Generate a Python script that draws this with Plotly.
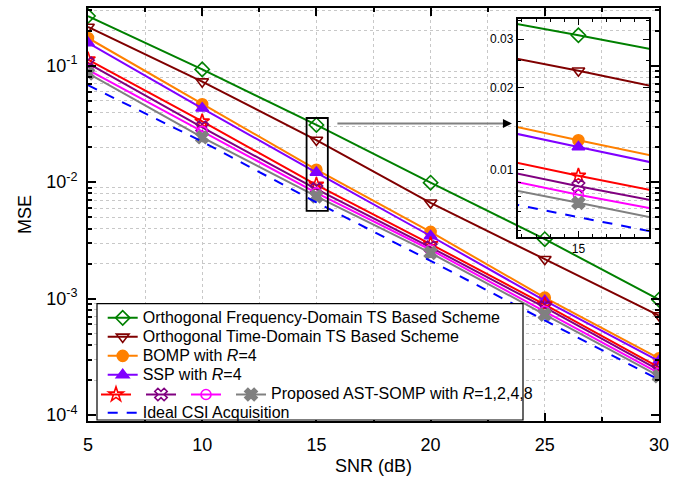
import math
import plotly.graph_objects as go

# ---------------- data ----------------
snr = [5, 10, 15, 20, 25, 30]
mse_ofd = [0.267, 0.093, 0.031, 0.0099, 0.00324, 0.00098]
mse_otd = [0.215, 0.073, 0.023, 0.00665, 0.00218, 0.000716]
mse_bomp = [0.173, 0.0467, 0.0128, 0.00374, 0.00102, 0.000307]
mse_ssp = [0.157, 0.0431, 0.0121, 0.00345, 0.00096, 0.000291]
mse_r1 = [0.113, 0.0332, 0.0095, 0.00294, 0.00089, 0.000257]
mse_r2 = [0.105, 0.0295, 0.0087, 0.00276, 0.00084, 0.000243]
mse_r4 = [0.092, 0.0273, 0.0081, 0.00263, 0.00078, 0.000229]
mse_r8 = [0.086, 0.0243, 0.00756, 0.00247, 0.00073, 0.000216]
mse_ideal = [0.068, 0.0223, 0.0067, 0.00211, 0.00065, 0.000201]

x_ticks = [5, 10, 15, 20, 25, 30]
y_ticks = [1e-4, 1e-3, 1e-2, 1e-1]
y_ticktext = ["10<sup>-4</sup>", "10<sup>-3</sup>", "10<sup>-2</sup>", "10<sup>-1</sup>"]
inset_yticks = [0.01, 0.02, 0.03]
inset_yticktext = ["0.01", "0.02", "0.03"]

# ---------------- styling ----------------
FONT = "Liberation Sans, Arial, sans-serif"
LEG_TXT = '<span style="font-size:16px">{}</span>'

series = [
    dict(y=mse_ofd, name="Orthogonal Frequency-Domain TS Based Scheme", color="#008000",
         symbol="diamond-open", size=11, dash="solid", legend="legend", group="a"),
    dict(y=mse_otd, name="Orthogonal Time-Domain TS Based Scheme", color="#800000",
         symbol="triangle-down-open", size=11, dash="solid", legend="legend", group="a"),
    dict(y=mse_bomp, name="BOMP with <i>R</i>=4", color="#FF8000",
         symbol="circle", size=11, dash="solid", legend="legend", group="a"),
    dict(y=mse_ssp, name="SSP with <i>R</i>=4", color="#8000FF",
         symbol="triangle-up", size=11, dash="solid", legend="legend", group="a"),
    dict(y=mse_r1, name="", color="#FF0000",
         symbol="star-open", size=11, dash="solid", legend="legend2", group=None),
    dict(y=mse_r2, name="", color="#800080",
         symbol="x-open", size=11, dash="solid", legend="legend2", group=None),
    dict(y=mse_r4, name="", color="#FF00FF",
         symbol="circle-open", size=10, dash="solid", legend="legend2", group=None),
    dict(y=mse_r8, name="Proposed AST-SOMP with <i>R</i>=1,2,4,8", color="#808080",
         symbol="x", size=11, dash="solid", legend="legend2", group=None),
    dict(y=mse_ideal, name="Ideal CSI Acquisition", color="#0000FF",
         symbol=None, size=0, dash="10px,9px", legend="legend", group="b"),
]

fig = go.Figure()


def make_marker(s):
    if s["symbol"] is None:
        return None
    return dict(symbol=s["symbol"], size=s["size"], color=s["color"],
                line=dict(color=s["color"], width=1.6))


for s in series:
    mode = "lines" if s["symbol"] is None else "lines+markers"
    fig.add_trace(go.Scatter(
        x=snr, y=s["y"], mode=mode,
        name=LEG_TXT.format(s["name"]) if s["name"] else "",
        line=dict(color=s["color"], width=2, dash=s["dash"]),
        marker=make_marker(s), legend=s["legend"], legendgroup=s["group"],
        xaxis="x", yaxis="y", showlegend=True))

# inset traces (same data, zoomed axes)
for s in series:
    mode = "lines" if s["symbol"] is None else "lines+markers"
    fig.add_trace(go.Scatter(
        x=snr, y=s["y"], mode=mode,
        line=dict(color=s["color"], width=2, dash=s["dash"]),
        marker=make_marker(s), xaxis="x2", yaxis="y2", showlegend=False))

# ---------------- layout ----------------
W, H = 692, 491
ML, MR, MT, MB = 88, 33, 6, 70
PW, PH = W - ML - MR, H - MT - MB


def px2paper_x(px):
    return (px - ML) / PW


def px2paper_y(py):
    return (H - MB - py) / PH


minor_y = [k * 10.0 ** e for e in range(-5, 0) for k in range(2, 10)]
minor_y = [v for v in minor_y if 8.5e-5 < v < 0.32]

inset_xr = [14.57, 15.5]
inset_yr = [-2.246, -1.449]

axis_common = dict(showline=True, linecolor="black", linewidth=1.8, mirror="ticks",
                   ticks="inside", tickcolor="black", zeroline=False, showgrid=False)

fig.update_layout(
    width=W, height=H,
    margin=dict(l=ML, r=MR, t=MT, b=MB),
    paper_bgcolor="white", plot_bgcolor="rgba(0,0,0,0)",
    font=dict(family=FONT, color="black", size=16),
    xaxis=dict(**axis_common, range=[5, 30], tickvals=x_ticks, ticklen=8, tickwidth=1.5,
               tickfont=dict(size=18, family=FONT), ticklabelstandoff=6,
               minor=dict(dtick=2.5, tick0=5, ticks="inside", ticklen=4, tickwidth=1.5,
                          tickcolor="black", showgrid=True, gridcolor="#c8c8c8",
                          griddash="dot", gridwidth=1),
               title=dict(text="SNR (dB)", font=dict(size=18, family=FONT), standoff=6),
               domain=[0, 1], anchor="y"),
    yaxis=dict(**axis_common, type="log", range=[math.log10(8.9e-5), math.log10(0.313)],
               tickvals=y_ticks, ticktext=y_ticktext, ticklen=8, tickwidth=1.5,
               tickfont=dict(size=18, family=FONT), ticklabelstandoff=5,
               minor=dict(tickvals=minor_y, ticks="inside", ticklen=4, tickwidth=1.5,
                          tickcolor="black", showgrid=True, gridcolor="#c8c8c8",
                          griddash="dot", gridwidth=1),
               title=dict(text="MSE", font=dict(size=18, family=FONT), standoff=10),
               domain=[0, 1], anchor="x"),
    xaxis2=dict(**axis_common, range=inset_xr, tickvals=[15], ticklen=6, tickwidth=1.2,
                tickfont=dict(size=12, family=FONT),
                minor=dict(dtick=0.1, tick0=15, ticks="inside", ticklen=3, tickwidth=1,
                           tickcolor="black"),
                domain=[px2paper_x(517.7), px2paper_x(649)], anchor="y2"),
    yaxis2=dict(**axis_common, type="log", range=inset_yr, tickvals=inset_yticks,
                ticktext=inset_yticktext, ticklen=6, tickwidth=1.2,
                tickfont=dict(size=12, family=FONT),
                minor=dict(tickvals=[0.006, 0.007, 0.008, 0.009, 0.015, 0.025, 0.035],
                           ticks="inside", ticklen=3, tickwidth=1, tickcolor="black"),
                domain=[px2paper_y(236), px2paper_y(17)], anchor="x2"),
    legend=dict(x=px2paper_x(102.7), y=px2paper_y(302.8), xanchor="left", yanchor="top",
                bgcolor="rgba(0,0,0,0)", borderwidth=0, font=dict(size=12, family=FONT),
                tracegroupgap=19, traceorder="grouped"),
    legend2=dict(x=px2paper_x(96), y=px2paper_y(379.8), xanchor="left", yanchor="top",
                 orientation="h", bgcolor="rgba(0,0,0,0)", borderwidth=0,
                 traceorder="normal", font=dict(size=12, family=FONT)),
)

# legend frame
fig.add_shape(type="rect", xref="paper", yref="paper",
              x0=px2paper_x(97), x1=px2paper_x(523), y0=px2paper_y(420), y1=px2paper_y(303),
              fillcolor="white", line=dict(color="black", width=1.2), layer="above")

# zoom rectangle on main plot (same extent as the inset axes)
fig.add_shape(type="rect", xref="x", yref="y",
              x0=inset_xr[0], x1=inset_xr[1], y0=10 ** inset_yr[0], y1=10 ** inset_yr[1],
              line=dict(color="black", width=1.8), layer="above")

# pointer arrow
arrow_y = 0.0319
fig.add_shape(type="line", xref="x", yref="y", x0=15.92, x1=23.3, y0=arrow_y, y1=arrow_y,
              line=dict(color="#808080", width=2), layer="above")
fig.add_annotation(x=23.56, y=math.log10(arrow_y), xref="x", yref="y", ax=-10, ay=0,
                   showarrow=True, arrowhead=2, arrowsize=1.2, arrowwidth=1.5,
                   arrowcolor="black", text="")

fig.write_html("out.html", config={"displayModeBar": False},
               post_script="document.body.style.margin='0px';")
